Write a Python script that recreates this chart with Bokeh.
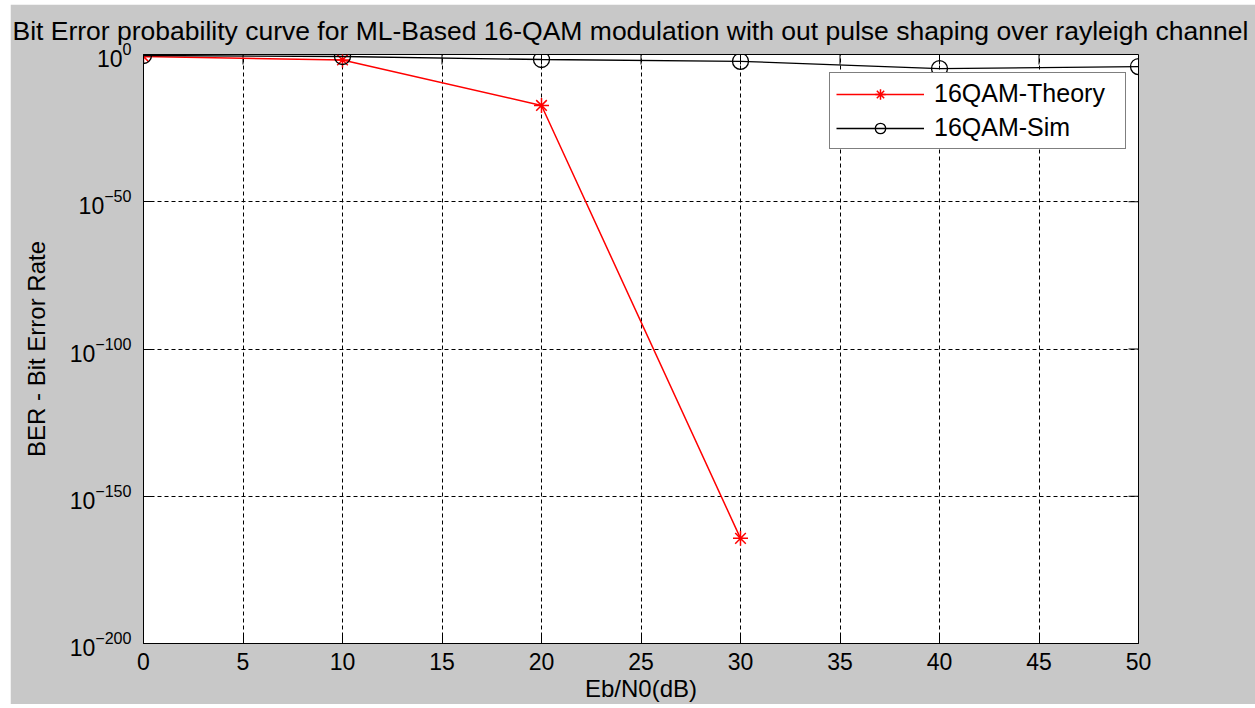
import math
from bokeh.plotting import figure
from bokeh.models import (Range1d, FixedTicker, Legend, LegendItem, LogTickFormatter)
from bokeh.embed import file_html
from bokeh.resources import INLINE

TITLE = "Bit Error probability curve for ML-Based 16-QAM modulation with out pulse shaping over rayleigh channel"
X_LABEL = "Eb/N0(dB)"
Y_LABEL = "BER - Bit Error Rate"
SERIES_NAMES = ["16QAM-Theory", "16QAM-Sim"]
EBN0_THEORY = [0, 10, 20, 30]
BER_THEORY = [2e-1, 1.4e-2, 5e-18, 5e-165]
EBN0_SIM = [0, 10, 20, 30, 40, 50]
BER_SIM = [4.6e-1, 2.1e-1, 2e-2, 5e-3, 1.6e-5, 8e-5]
X_TICKS = [0, 5, 10, 15, 20, 25, 30, 35, 40, 45, 50]
Y_TICK_EXPONENTS = [0, -50, -100, -150, -200]

FONT = "Liberation Sans"
BG = "#c8c8c8"
Y_TICKS = [10.0 ** e for e in Y_TICK_EXPONENTS]

p = figure(width=1245, height=700,
           x_range=Range1d(X_TICKS[0], X_TICKS[-1]),
           y_range=Range1d(Y_TICKS[-1], Y_TICKS[0]),
           y_axis_type="log", output_backend="svg", toolbar_location=None,
           min_border_left=133, min_border_right=117, min_border_top=47, min_border_bottom=57,
           background_fill_color="white", border_fill_color=BG,
           outline_line_color="black", outline_line_width=1)
p.margin = (4, 0, 0, 10)

p.title.text = TITLE
p.title.text_font = FONT
p.title.text_font_size = "26.5px"
p.title.text_font_style = "normal"
p.title.text_color = "black"
p.title.align = "left"
p.title.offset = -131
p.title.standoff = 18

# bottom axis
xa = p.xaxis[0]
xa.ticker = FixedTicker(ticks=X_TICKS)
xa.major_tick_in = 10
xa.major_tick_out = 0
xa.minor_tick_in = 0
xa.minor_tick_out = 0
xa.axis_line_color = "black"
xa.major_tick_line_color = "black"
xa.major_label_text_font = FONT
xa.major_label_text_font_size = "23px"
xa.major_label_text_color = "black"
xa.major_label_standoff = 9
xa.axis_label = X_LABEL
xa.axis_label_text_font = FONT
xa.axis_label_text_font_size = "24px"
xa.axis_label_text_font_style = "normal"
xa.axis_label_text_color = "black"
xa.axis_label_standoff = 2

# left axis with 10^n labels
ya = p.yaxis[0]
ya.ticker = FixedTicker(ticks=Y_TICKS)
ya.formatter = LogTickFormatter()
ya.major_tick_in = 10
ya.major_tick_out = 0
ya.minor_tick_in = 0
ya.minor_tick_out = 0
ya.axis_line_color = "black"
ya.major_tick_line_color = "black"
ya.major_label_text_font = FONT
ya.major_label_text_font_size = "23px"
ya.major_label_text_color = "black"
ya.major_label_standoff = 12
ya.axis_label = Y_LABEL
ya.axis_label_text_font = FONT
ya.axis_label_text_font_size = "24px"
ya.axis_label_text_font_style = "normal"
ya.axis_label_text_color = "black"
ya.axis_label_standoff = 17

# inner ticks on the top and right edges of the box
n_x = len(X_TICKS)
n_y = len(Y_TICKS)
p.ray(x=X_TICKS, y=[Y_TICKS[0]] * n_x, length=10, length_units="screen",
      angle=-math.pi / 2, line_color="black", line_width=1)
p.ray(x=[X_TICKS[-1]] * n_y, y=Y_TICKS, length=10, length_units="screen",
      angle=math.pi, line_color="black", line_width=1)

# grids
for g, t in ((p.xgrid[0], X_TICKS), (p.ygrid[0], Y_TICKS)):
    g.ticker = FixedTicker(ticks=t)
    g.grid_line_color = "black"
    g.grid_line_dash = "4 3"
    g.grid_line_width = 1
    g.grid_line_alpha = 1

# data
th_line = p.line(EBN0_THEORY, BER_THEORY, line_color="red", line_width=1.5)
th_mark = p.scatter(EBN0_THEORY, BER_THEORY, marker="asterisk", size=15,
                    line_color="red", line_width=1.5)
sim_line = p.line(EBN0_SIM, BER_SIM, line_color="black", line_width=1.3)
sim_mark = p.scatter(EBN0_SIM, BER_SIM, marker="circle", size=16, fill_color=None,
                     line_color="black", line_width=1.3)

legend = Legend(items=[LegendItem(label=SERIES_NAMES[0], renderers=[th_line, th_mark]),
                       LegendItem(label=SERIES_NAMES[1], renderers=[sim_line, sim_mark])],
                location=(686, 494), orientation="vertical",
                padding=6, spacing=5, margin=0,
                glyph_width=88, glyph_height=26, label_height=26, label_width=185,
                label_standoff=10,
                label_text_font=FONT, label_text_font_size="25px", label_text_color="black",
                border_line_color="black", border_line_width=1,
                background_fill_color="white", background_fill_alpha=1)
p.add_layout(legend)

open("out.html", "w").write(file_html(p, INLINE))
